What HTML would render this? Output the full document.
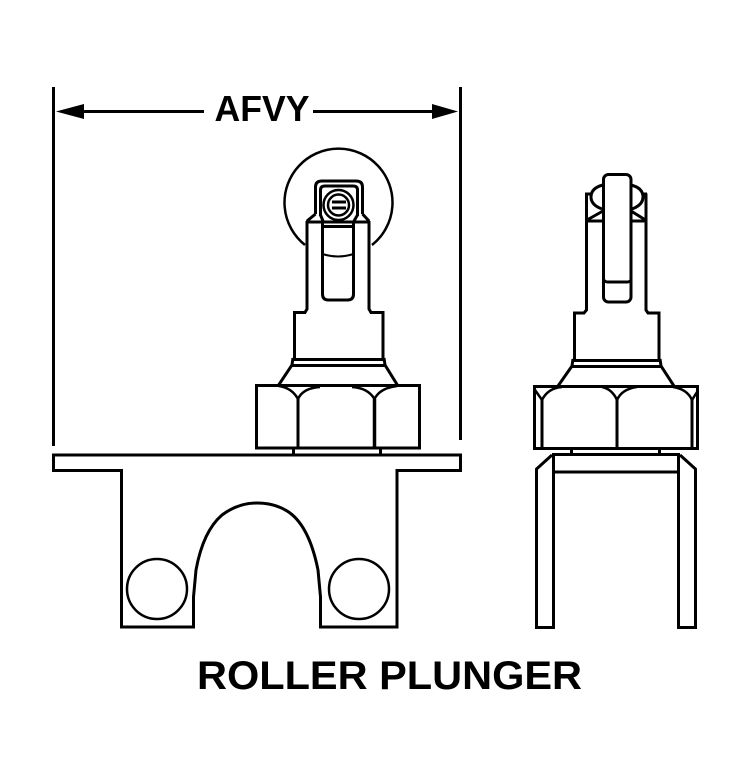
<!DOCTYPE html>
<html>
<head>
<meta charset="utf-8">
<style>
html,body{margin:0;padding:0;background:#fff;width:750px;height:760px;overflow:hidden}
svg{display:block}
text{font-family:"Liberation Sans",sans-serif;font-weight:bold;fill:#000}
.s{fill:none;stroke:#000;stroke-width:3;stroke-linejoin:miter;stroke-linecap:butt}
.t{fill:none;stroke:#000;stroke-width:2.5}
</style>
</head>
<body>
<svg width="750" height="760" viewBox="0 0 750 760" xmlns="http://www.w3.org/2000/svg">
<rect width="750" height="760" fill="#fff"/>

<!-- dimension -->
<path class="s" d="M53.500 87V446M460.500 87V440M80 111.500H204M313 111.500H436"/>
<polygon points="56,111.500 84,104 84,119"/>
<polygon points="458,111.500 432,104 432,119"/>
<text x="214.500" y="121" font-size="36" textLength="95" lengthAdjust="spacingAndGlyphs">AFVY</text>

<!-- front: roller -->
<path class="s" style="stroke-width:2.500" d="M305 245A54 54 0 1 1 372 245"/>
<path class="s" d="M315.500 214V187Q315.500 181 322 181H356Q362.500 181 362.500 187V214"/>
<path class="s" d="M320.500 216V190Q320.500 186 325 186H353Q357.500 186 357.500 190V216"/>
<circle class="t" cx="338.500" cy="205" r="15"/>
<circle class="t" cx="338.500" cy="205" r="10.500"/>
<path class="s" d="M332 202H346M332 208H346"/>
<path class="s" d="M307 221L315.500 214M369 221L362.500 214M320.500 215L323 221M357.500 215L354 221"/>
<path class="s" d="M306 222H370M322 226.500H354"/>
<path class="s" d="M322.500 222V294Q322.500 300 328.500 300H347.500Q353.500 300 353.500 294V222"/>
<path class="s" style="stroke-width:2" d="M322.500 254Q338 259 353.500 254"/>
<path class="s" d="M307 221V309L305 312.500H294.500V359M369 221V309L371 312.500H383V359"/>

<!-- front: collar -->
<path class="s" d="M292 359.500H385M292 365.500H385M293 358L292 365L278 386M384 358L385 365L398 386"/>
<rect class="s" x="256.500" y="385.500" width="163" height="62.500"/>
<path class="s" d="M298 399V448"/>
<path class="s" style="stroke-width:3.500" d="M374.500 399V448"/>
<path class="s" style="stroke-width:2.500" d="M279 386Q292 388 298 399Q303 388 320 387M352 387Q368 388 374.500 399Q380 388 397 386"/>
<path class="s" d="M293.500 448V454M380.500 448V454"/>

<!-- front: bracket -->
<path class="s" d="M53.500 455H460.500V470.500H397V627H320.500V597L318 570C312 540 302 522 290 513C279 505 268 503 257 503C246 503 234 506 222 515C208 527 200 548 196 570L193.500 597V627H121.500V470.500H53.500Z"/>
<circle class="t" cx="157" cy="589" r="30"/>
<circle class="t" cx="359" cy="589" r="30"/>

<!-- side: roller and fork -->
<path class="s" d="M603 185Q591 188 591 197Q591 205 602 209M631 185Q643 188 643 197Q643 205 632 209"/>
<path class="s" d="M586.500 221H603M631 221H646M587 220L603 211M645.500 220L631 211"/>
<path class="s" d="M586.500 193.500V310L584 313H574.500V360M646 193.500V310L648 313H659V360"/>
<path class="s" d="M585 194H591M642 194H647"/>
<rect class="s" x="603.500" y="174.500" width="27.500" height="127.500" rx="5"/>
<path class="s" d="M604 280Q605 282 608 282H627Q630 282 631 280"/>

<!-- side: collar -->
<path class="s" d="M572 360.500H661M572 366.500H661M573 359L572 366L558 386M660 359L661 366L674 386"/>
<rect class="s" x="534.500" y="386.500" width="163" height="62"/>
<path class="s" d="M542 400V449M617 400V449M692 400V449"/>
<path class="s" style="stroke-width:2.500" d="M535 390L542 400Q548 388 562 387M602 387Q612 389 617 400Q622 389 637 387M673 387Q687 389 692 400L697 392"/>
<path class="s" d="M571.500 449V454M659.500 449V454"/>

<!-- side: bracket -->
<path class="s" d="M552 454.500H680M553 472H679"/>
<path class="s" d="M553.500 454V627.500H536.500V469L552 455M678.500 454V627.500H695.500V469L680 455"/>

<text x="197" y="689" font-size="40" textLength="385" lengthAdjust="spacingAndGlyphs">ROLLER PLUNGER</text>
</svg>
</body>
</html>
